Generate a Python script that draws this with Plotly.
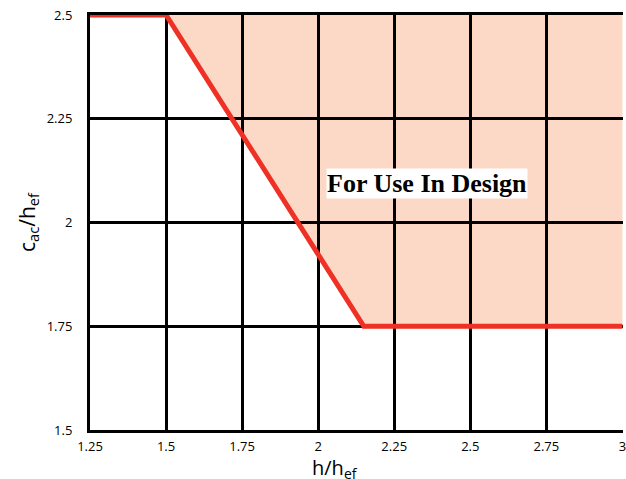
import plotly.graph_objects as go

# data
curve_x = [1.25, 1.5, 2.15, 3.0]
curve_y = [2.5, 2.5, 1.75, 1.75]
x_ticks = [1.25, 1.5, 1.75, 2, 2.25, 2.5, 2.75, 3]
x_ticklabels = ["1.25", "1.5", "1.75", "2", "2.25", "2.5", "2.75", "3"]
y_ticks = [1.5, 1.75, 2, 2.25, 2.5]
y_ticklabels = ["1.5", "1.75", "2", "2.25", "2.5"]
region_label = "For Use In Design"

# design region polygon (right/above the curve)
fill_x = curve_x[1:] + [curve_x[-1], curve_x[1]]
fill_y = curve_y[1:] + [curve_y[0], curve_y[1]]
path = "M " + " L ".join(f"{x},{y}" for x, y in zip(fill_x, fill_y)) + " Z"

fig = go.Figure()
fig.add_shape(type="path", path=path, xref="x", yref="y", layer="below",
              fillcolor="#FCD9C7", line=dict(width=0))
fig.add_trace(go.Scatter(x=curve_x, y=curve_y, mode="lines",
                         line=dict(color="#EE3124", width=5), showlegend=False,
                         hoverinfo="skip", cliponaxis=False))

fig.add_annotation(x=2.357, y=2.093, xref="x", yref="y", text=f"<b>{region_label}</b>",
                   showarrow=False, bgcolor="white", borderpad=0,
                   font=dict(family="Liberation Serif", size=26, color="black"))

# x axis title
fig.add_annotation(x=0.46, y=0, xref="paper", yref="paper", yanchor="top", yshift=-22,
                   text="h/h<sub>ef</sub>", showarrow=False,
                   font=dict(family="Open Sans", size=20, color="black"))
# partially cut-off top title
fig.add_annotation(x=0.535, y=1, xref="paper", yref="paper", yanchor="bottom", yshift=9,
                   text="c<sub>ac</sub>", showarrow=False,
                   font=dict(family="Open Sans", size=20, color="black"))

fig.update_layout(
    width=626, height=479,
    margin=dict(l=90, r=0, t=15, b=49),
    plot_bgcolor="white", paper_bgcolor="white",
    font=dict(family="Open Sans", size=13, color="black"),
    showlegend=False,
    xaxis=dict(range=[1.25, 3.002], tickvals=x_ticks, ticktext=x_ticklabels,
               showgrid=True, gridcolor="black", gridwidth=2.5,
               showline=True, linecolor="black", linewidth=3, mirror=True,
               ticks="outside", ticklen=2, tickcolor="white", zeroline=False,
               ticklabeloverflow="allow"),
    yaxis=dict(range=[1.5, 2.5], tickvals=y_ticks, ticktext=y_ticklabels,
               showgrid=True, gridcolor="black", gridwidth=2.5,
               showline=True, linecolor="black", linewidth=3,
               ticks="outside", ticklen=12, tickcolor="white", zeroline=False,
               title=dict(text="c<sub>ac</sub>/h<sub>ef</sub>", font=dict(size=21), standoff=6)),
)

fig.write_html("out.html", config={"displayModeBar": False},
               post_script="document.body.style.margin='0';")
